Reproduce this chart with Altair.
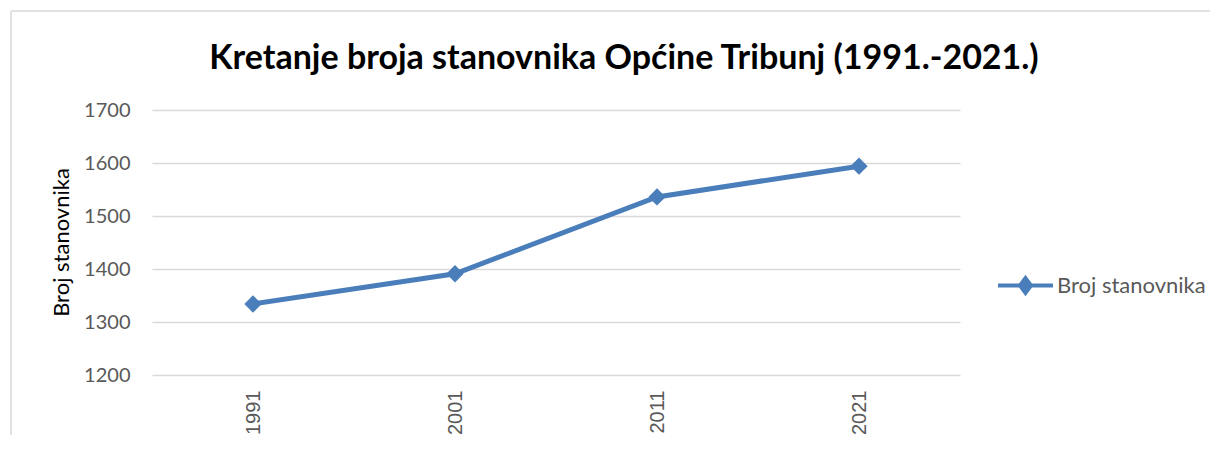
import altair as alt
import pandas as pd

years = ["1991", "2001", "2011", "2021"]
population = [1334, 1391, 1536, 1594]
series_name = "Broj stanovnika"
y_ticks = [1200, 1300, 1400, 1500, 1600, 1700]
title_text = "Kretanje broja stanovnika Općine Tribunj (1991.-2021.)"

df = pd.DataFrame({"Godina": years, "Stanovnici": population,
                   "Serija": [series_name] * len(years)})

BLUE = "#4a7ebb"
GREY = "#595959"
FONT = "Lato"

legend_path = "M-1,0H1M0,-0.27L0.2,0L0,0.27L-0.2,0Z"

line = alt.Chart(df).mark_line(
    strokeWidth=5,
    point=alt.OverlayMarkDef(shape="diamond", size=300, filled=True, color=BLUE),
).encode(
    x=alt.X("Godina:N", sort=years,
            scale=alt.Scale(type="point", padding=0.5),
            axis=alt.Axis(title=None, labelAngle=270, domain=False, ticks=False,
                          grid=False, labelPadding=15, labelFont="Liberation Sans",
                          labelFontSize=20, labelColor=GREY)),
    y=alt.Y("Stanovnici:Q",
            scale=alt.Scale(domain=[1200, 1700], nice=False, zero=False),
            axis=alt.Axis(values=y_ticks, format="d", grid=True, gridColor="#d9d9d9",
                          gridWidth=1.5, domain=False, ticks=False, labelFont=FONT,
                          labelFontSize=20, labelColor=GREY, labelPadding=22,
                          title="Broj stanovnika", titleFont=FONT, titleFontSize=22,
                          titleFontWeight="normal", titleColor="#000000",
                          titleX=-91, titleY=132, titleAngle=270,
                          titleAlign="center", titleBaseline="middle")),
    color=alt.Color("Serija:N", scale=alt.Scale(range=[BLUE]),
                    legend=alt.Legend(title=None, orient="none", legendX=844, legendY=146,
                                      symbolType=legend_path, symbolSize=3025,
                                      symbolStrokeWidth=4, symbolStrokeColor=BLUE,
                                      symbolFillColor=BLUE, labelFont=FONT,
                                      labelFontSize=22, labelColor=GREY, labelOffset=2)),
)

border_df = pd.DataFrame({"k": [0]})
top_border = alt.Chart(border_df).mark_rule(color="#d9d9d9", strokeWidth=1.5).encode(
    x=alt.value(-141), x2=alt.value(1075), y=alt.value(-99))
left_border = alt.Chart(border_df).mark_rule(color="#d9d9d9", strokeWidth=1.5).encode(
    x=alt.value(-141), y=alt.value(-99), y2=alt.value(400))

chart = alt.layer(top_border, left_border, line).properties(
    width=808, height=265,
    autosize=alt.AutoSizeParams(type="none"),
    padding={"left": 144, "top": 102, "right": 250, "bottom": 60},
    title=alt.TitleParams(text=title_text, font=FONT, fontSize=34, fontWeight="bold",
                          color="#000000", anchor="middle", baseline="alphabetic",
                          dx=68, offset=-93),
).configure(background="white").configure_view(stroke=None)

chart.save("out.html", embed_options={"renderer": "svg", "actions": False})
